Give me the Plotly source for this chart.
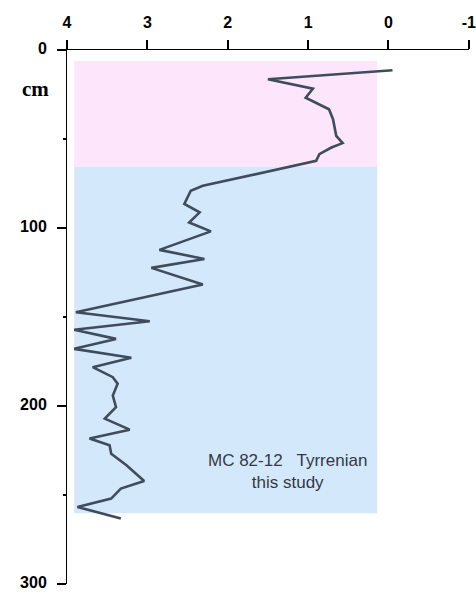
import plotly.graph_objects as go

# Data (x value vs depth in cm)
values = [-0.05, 1.50, 0.94, 1.03, 0.74, 0.69, 0.65, 0.57, 0.71, 0.86, 0.90,
          2.31, 2.46, 2.54, 2.35, 2.48, 2.21, 2.85, 2.29, 2.95, 2.31,
          3.89, 2.97, 3.91, 3.39, 3.91, 3.20, 3.68, 3.43, 3.37, 3.43, 3.39,
          3.53, 3.22, 3.72, 3.47, 3.45, 3.26, 3.04, 3.33, 3.45, 3.87, 3.33]
depth = [11.4, 16.4, 21.7, 26.8, 33.3, 38.9, 48.2, 52.3, 54.8, 58.5, 62.3,
         76.3, 79.1, 86.5, 91.2, 96.9, 101.9, 112.3, 117.4, 122.4, 131.8,
         147.3, 152.4, 157.2, 162.3, 167.9, 172.9, 178.2, 183.8, 187.5, 194.1, 200.6,
         207.1, 213.3, 218.3, 222.1, 226.8, 233.3, 242.1, 246.4, 252.0, 256.7, 263.2]

x_ticks = [4, 3, 2, 1, 0, -1]
y_ticks = [0, 100, 200, 300]
y_minor = [50, 150, 250]

# zones: (x_left, x_right, top, bottom, color)
zone_x = [3.91, 0.14]
zone_tops = [6.2, 65.4]
zone_bottoms = [65.4, 260.2]
zone_colors = ["#fde6fc", "#d4e8fc"]

label_lines = ["MC 82-12   Tyrrenian", "this study"]

fig = go.Figure()

for t, b, c in zip(zone_tops, zone_bottoms, zone_colors):
    fig.add_shape(type="rect", xref="x", yref="y", x0=zone_x[0], x1=zone_x[1],
                  y0=t, y1=b, fillcolor=c, line=dict(width=0), layer="below")

fig.add_trace(go.Scatter(x=values, y=depth, mode="lines",
                         line=dict(color="#3f4c5c", width=2.6),
                         hoverinfo="skip", showlegend=False))

fig.add_annotation(x=1.26, y=236.7, xref="x", yref="y", showarrow=False,
                   text="<br>".join(label_lines), align="center",
                   font=dict(family="Liberation Sans", size=17, color="#333a44"))

fig.add_annotation(x=-0.04, y=22, xref="paper", yref="y", xanchor="right",
                   showarrow=False, text="<b>cm</b>",
                   font=dict(family="Liberation Serif", size=21, color="black"))

fig.update_xaxes(side="top", range=[4, -1.002], tickvals=x_ticks,
                 ticktext=[str(v) for v in x_ticks],
                 ticks="outside", ticklen=9, tickcolor="black", tickwidth=1.5,
                 showline=True, linecolor="black", linewidth=1,
                 showgrid=False, zeroline=False, ticklabelstandoff=6,
                 ticklabeloverflow="allow", automargin=False,
                 tickfont=dict(family="Liberation Sans", size=16, color="black", weight="bold"))
fig.update_yaxes(range=[300, 0], tickvals=y_ticks,
                 ticktext=[str(v) for v in y_ticks],
                 ticks="outside", ticklen=9, tickcolor="black", tickwidth=1.5,
                 minor=dict(tickvals=y_minor, ticks="outside", ticklen=3, tickcolor="black"),
                 showline=True, linecolor="black", linewidth=1,
                 showgrid=False, zeroline=False, ticklabelstandoff=7,
                 ticklabelshift=2, ticklabeloverflow="allow", automargin=False,
                 tickfont=dict(family="Liberation Sans", size=16, color="black", weight="bold"))

fig.update_layout(width=476, height=594, margin=dict(l=67, r=7, t=50, b=10),
                  plot_bgcolor="white", paper_bgcolor="white")

fig.write_html("out.html")
